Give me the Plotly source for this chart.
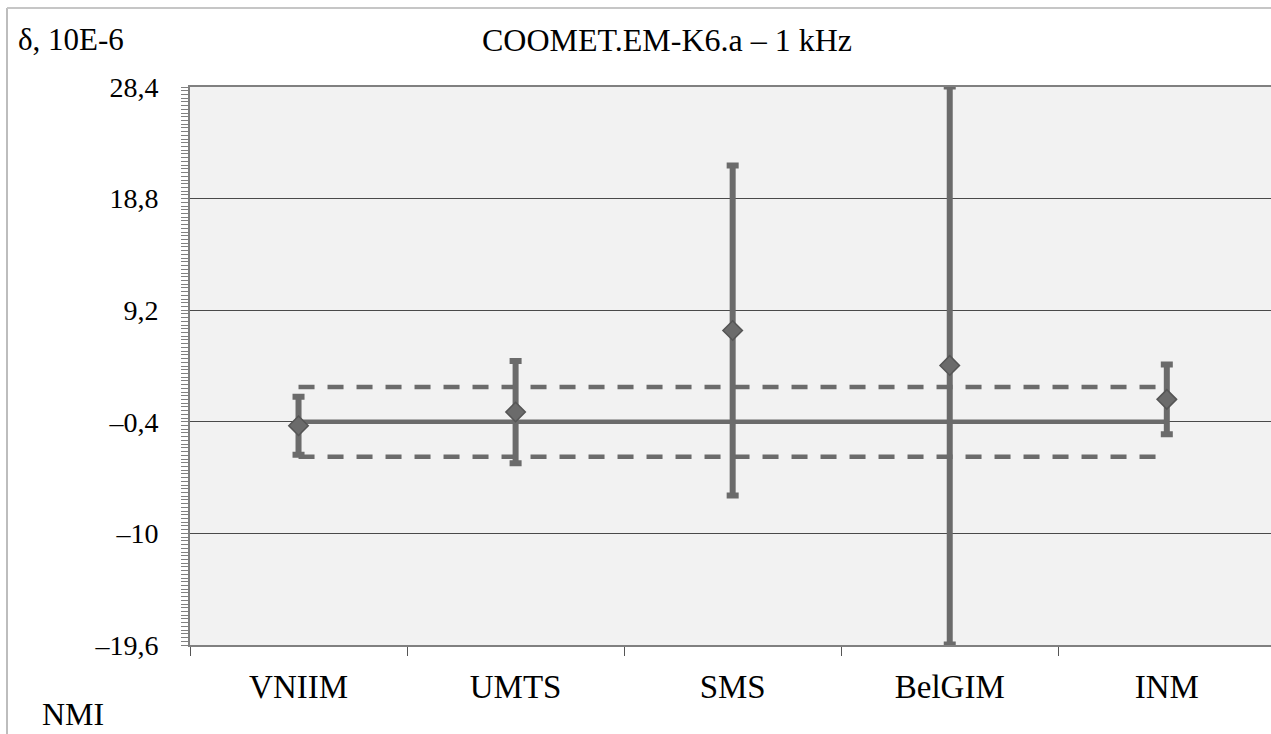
import plotly.graph_objects as go

# ---- data ----
nmi = ["VNIIM", "UMTS", "SMS", "BelGIM", "INM"]
delta = [-0.74, 0.44, 7.45, 4.45, 1.53]
unc = [2.5, 4.4, 14.2, 24.0, 3.0]
kcrv = -0.4
kcrv_u = 3.0
y_tickvals = [-19.6, -10, -0.4, 9.2, 18.8, 28.4]
y_ticktext = ["\u201319,6", "\u201310", "\u20130,4", "9,2", "18,8", "28,4"]
title_text = "COOMET.EM-K6.a \u2013 1 kHz"
y_label = "\u03b4, 10E-6"
x_label = "NMI"

W, H = 1271, 734
L, T, B = 190, 87, 89
pw = W - L
ph = H - T - B

def px(x):
    return (x - L) / pw

def py(y):
    return (H - B - y) / ph

FONT = "Liberation Serif, Times New Roman, serif"
GRAY = "#6b6b6b"

fig = go.Figure()

ends = [nmi[0], nmi[-1]]
fig.add_trace(go.Scatter(x=ends, y=[kcrv + kcrv_u] * 2, mode="lines",
                         line=dict(color=GRAY, width=4.5, dash="16px,13px"),
                         showlegend=False, hoverinfo="skip"))
fig.add_trace(go.Scatter(x=ends, y=[kcrv - kcrv_u] * 2, mode="lines",
                         line=dict(color=GRAY, width=4.5, dash="16px,13px"),
                         showlegend=False, hoverinfo="skip"))
fig.add_trace(go.Scatter(x=ends, y=[kcrv] * 2, mode="lines",
                         line=dict(color=GRAY, width=4.5),
                         showlegend=False, hoverinfo="skip"))
fig.add_trace(go.Scatter(
    x=nmi, y=delta, mode="markers",
    marker=dict(symbol="diamond", size=15, color=GRAY,
                line=dict(color="#555555", width=1.5)),
    error_y=dict(type="data", array=unc, visible=True, color=GRAY,
                 thickness=6, width=6),
    showlegend=False))

fig.update_layout(
    width=W, height=H,
    margin=dict(l=L, r=0, t=T, b=B),
    paper_bgcolor="white",
    plot_bgcolor="#f2f2f2",
    font=dict(family=FONT, color="#000000"),
    xaxis=dict(
        type="category", categoryorder="array", categoryarray=nmi,
        range=[-0.5, 4.48],
        tickson="boundaries", ticks="outside", ticklen=9, tickwidth=1,
        tickcolor="#555555",
        showline=True, linecolor="#808080", linewidth=2, mirror=True,
        showgrid=False, zeroline=False,
        tickfont=dict(size=33, family=FONT, color="#000000"),
        ticklabelstandoff=11,
    ),
    yaxis=dict(
        range=[-19.6, 28.4],
        tickvals=y_tickvals, ticktext=y_ticktext,
        ticks="outside", ticklen=7, tickwidth=1, tickcolor="#808080",
        showline=True, linecolor="#808080", linewidth=2,
        showgrid=True, gridcolor="#4a4a4a", gridwidth=1,
        zeroline=False,
        minor=dict(ticks="outside", ticklen=7, tickwidth=1, tickcolor="#808080",
                   tick0=-19.6, dtick=0.32, showgrid=False),
        tickfont=dict(size=28, family=FONT, color="#000000"),
        ticklabelstandoff=17,
    ),
    annotations=[
        dict(text=title_text, xref="paper", yref="paper",
             x=px(667), y=py(40), xanchor="center", yanchor="middle",
             showarrow=False, font=dict(size=32, family=FONT, color="#000000")),
        dict(text=y_label, xref="paper", yref="paper",
             x=px(16), y=py(40), xanchor="left", yanchor="middle",
             showarrow=False, font=dict(size=31, family=FONT, color="#000000")),
        dict(text=x_label, xref="paper", yref="paper",
             x=px(40), y=py(714), xanchor="left", yanchor="middle",
             showarrow=False, font=dict(size=32, family=FONT, color="#000000")),
    ],
    shapes=[
        dict(type="line", xref="paper", yref="paper",
             x0=px(7), x1=px(7), y0=py(8), y1=py(740),
             line=dict(color="#bdbdbd", width=2)),
        dict(type="line", xref="paper", yref="paper",
             x0=px(7), x1=1.01, y0=py(8), y1=py(8),
             line=dict(color="#c6c6c6", width=2)),
    ],
)

fig.write_html("out.html", config={"displayModeBar": False},
               post_script="document.body.style.margin='0';")
